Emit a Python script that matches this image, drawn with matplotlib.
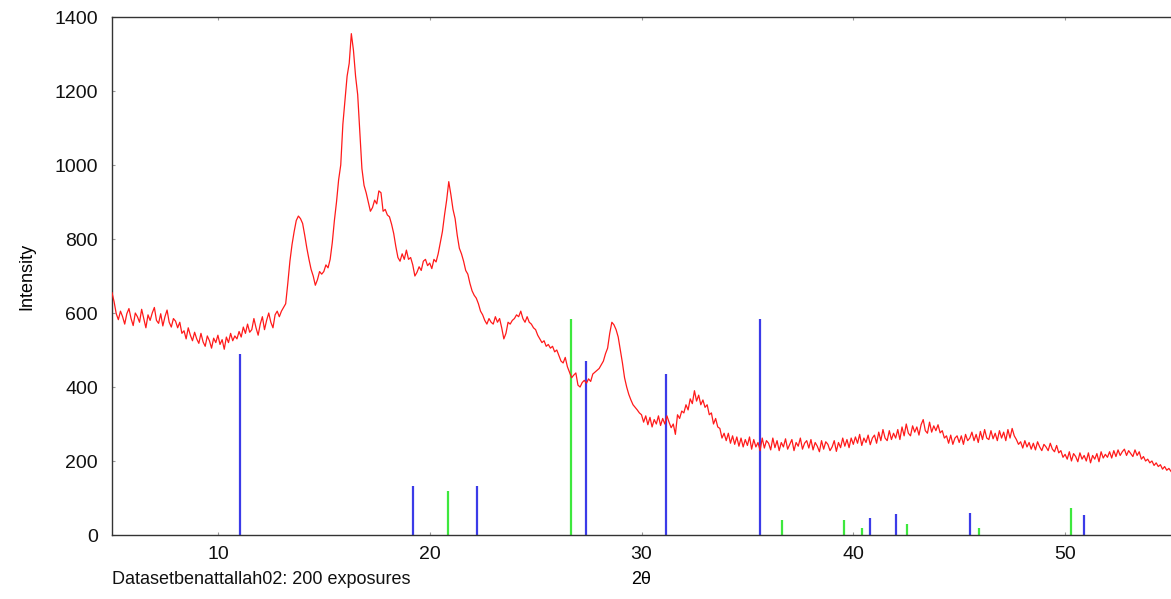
import numpy as np
import matplotlib
matplotlib.use("Agg")
import matplotlib.pyplot as plt

plt.rcParams['font.family'] = ['Liberation Sans', 'DejaVu Sans']

# scan grid (2theta, 0.1 deg step)
theta_start, theta_step = 5.0, 0.1

int_05_10 = [655, 630, 598, 582, 605, 590, 570, 598, 612, 585,
             566, 600, 590, 575, 610, 585, 560, 595, 580, 600,
             615, 580, 572, 598, 565, 590, 608, 575, 562, 585,
             578, 560, 575, 545, 552, 530, 560, 540, 525, 548,
             530, 518, 545, 522, 510, 538, 525, 505, 532, 520]
int_10_15 = [540, 515, 528, 502, 535, 520, 545, 525, 538, 530,
             550, 535, 562, 545, 570, 548, 555, 585, 560, 540,
             570, 590, 555, 580, 600, 575, 560, 595, 605, 590,
             605, 615, 625, 680, 740, 785, 820, 850, 862, 855,
             842, 810, 775, 745, 718, 700, 675, 690, 712, 705]
int_15_20 = [712, 730, 722, 745, 790, 850, 900, 960, 1000, 1110,
             1175, 1240, 1275, 1355, 1310, 1240, 1190, 1090, 990, 945,
             925, 900, 875, 885, 905, 895, 930, 925, 875, 880,
             865, 860, 840, 815, 780, 750, 740, 760, 745, 770,
             745, 750, 730, 700, 710, 725, 715, 740, 745, 728]
int_20_25 = [735, 720, 745, 738, 760, 790, 820, 865, 905, 955,
             920, 880, 855, 810, 775, 760, 740, 715, 705, 680,
             660, 648, 640, 625, 605, 595, 580, 570, 585, 575,
             570, 590, 575, 585, 560, 530, 545, 575, 570, 580,
             585, 595, 590, 605, 585, 575, 590, 575, 570, 560]
int_25_30 = [555, 540, 530, 520, 525, 510, 515, 505, 510, 495,
             500, 485, 470, 465, 480, 455, 440, 425, 432, 438,
             405, 400, 412, 418, 410, 422, 415, 435, 440, 445,
             450, 460, 470, 490, 505, 545, 575, 568, 555, 535,
             500, 465, 425, 400, 380, 365, 352, 345, 338, 330]
int_30_35 = [325, 305, 322, 298, 318, 292, 312, 300, 322, 296,
             315, 300, 322, 305, 290, 300, 272, 325, 315, 335,
             330, 352, 338, 368, 355, 390, 362, 378, 352, 365,
             345, 352, 325, 330, 300, 315, 292, 288, 262, 275,
             255, 275, 248, 268, 245, 265, 240, 262, 238, 258]
int_35_40 = [242, 265, 232, 258, 238, 250, 228, 262, 235, 255,
             248, 230, 262, 236, 255, 228, 250, 238, 260, 232,
             245, 258, 228, 250, 240, 262, 232, 248, 255, 235,
             258, 230, 250, 240, 225, 255, 232, 252, 245, 228,
             238, 255, 226, 250, 236, 262, 240, 258, 236, 262]
int_40_45 = [245, 265, 248, 272, 242, 262, 250, 270, 244, 262,
             270, 248, 278, 255, 285, 262, 255, 282, 258, 275,
             262, 285, 258, 292, 268, 300, 275, 268, 295, 278,
             292, 270, 298, 312, 282, 275, 305, 278, 295, 282,
             298, 276, 282, 262, 268, 248, 270, 245, 262, 268]
int_45_50 = [250, 268, 245, 272, 255, 262, 278, 255, 272, 250,
             280, 258, 285, 262, 258, 282, 260, 275, 255, 282,
             262, 278, 255, 285, 262, 288, 268, 258, 245, 252,
             235, 255, 238, 250, 232, 248, 230, 252, 238, 228,
             245, 238, 228, 248, 232, 225, 242, 222, 228, 210]
int_50_55 = [218, 205, 225, 200, 220, 212, 198, 222, 205, 215,
             200, 222, 195, 215, 205, 220, 198, 225, 208, 218,
             210, 225, 208, 228, 212, 230, 215, 225, 232, 215,
             228, 220, 212, 230, 215, 225, 205, 212, 200, 205,
             195, 200, 188, 195, 185, 190, 178, 185, 175, 180, 172]

intensity = np.array(int_05_10 + int_10_15 + int_15_20 + int_20_25 + int_25_30
                     + int_30_35 + int_35_40 + int_40_45 + int_45_50 + int_50_55, dtype=float)
two_theta = theta_start + theta_step * np.arange(len(intensity))

# reference phase sticks
blue_pos = [11.04, 19.23, 22.23, 27.38, 31.16, 35.59, 40.79, 42.0, 45.5, 50.9]
blue_h = [489, 132, 132, 470, 435, 584, 46, 57, 59, 54]
green_pos = [20.86, 26.67, 36.62, 39.56, 40.4, 42.53, 45.93, 50.28]
green_h = [119, 584, 40, 40, 19, 30, 19, 73]

x_ticks = [10, 20, 30, 40, 50]
y_ticks = [0, 200, 400, 600, 800, 1000, 1200, 1400]

fig = plt.figure(figsize=(11.71, 5.99), dpi=100)
ax = fig.add_axes([112 / 1171, 64 / 599, 1 - 112 / 1171, 518 / 599])

ax.vlines(blue_pos, 0, blue_h, colors='#3b3be8', linewidth=1.6, zorder=2)
ax.vlines(green_pos, 0, green_h, colors='#3ee83e', linewidth=1.6, zorder=2)
ax.plot(two_theta, intensity, color='#ff1a1a', linewidth=0.9, zorder=3)

ax.set_xlim(5, 55)
ax.set_ylim(0, 1400)
ax.set_xticks(x_ticks)
ax.set_yticks(y_ticks)
ax.tick_params(direction='in', length=2, width=0.8, color='#999999',
               labelsize=14, top=True, pad=8, labelcolor='#111111')
ax.tick_params(axis='y', pad=10)
ax.spines['right'].set_visible(False)
for s in ['left', 'top', 'bottom']:
    ax.spines[s].set_color('#333333')
    ax.spines[s].set_linewidth(1.0)

ax.set_ylabel('Intensity', fontsize=13, labelpad=14)
ax.set_xlabel('2θ', fontsize=13, labelpad=6)
fig.text(112 / 1171, 1 - 580 / 599, 'Datasetbenattallah02: 200 exposures',
         fontsize=13, ha='left', va='center', color='#111111')

fig.savefig('out.png', dpi=100)
